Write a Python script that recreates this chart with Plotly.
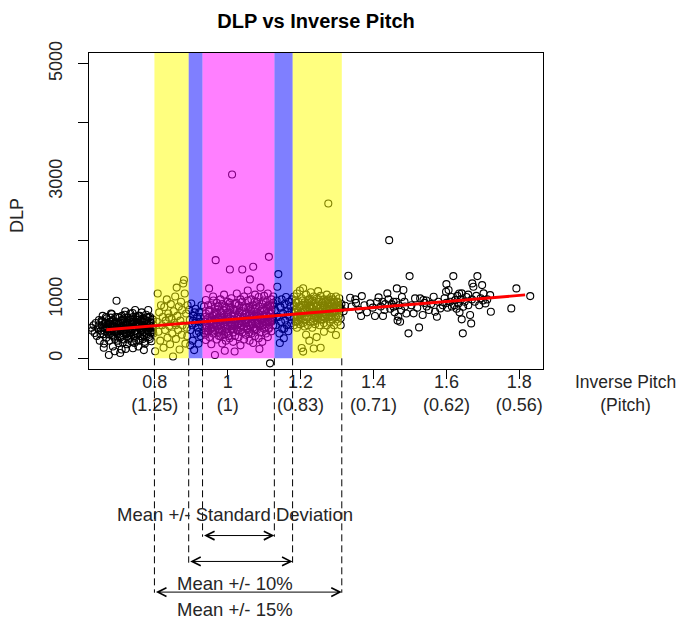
import plotly.graph_objects as go

# ---------------- data ----------------
# black cluster left of the bands
a_x = [0.626,0.628,0.632,0.635,0.638,0.641,0.644,0.647,0.649,0.652,0.655,0.657,0.659,0.661,0.663,0.665,0.667,0.668,0.670,0.672,
       0.674,0.675,0.676,0.678,0.680,0.681,0.683,0.685,0.686,0.688,0.689,0.691,0.692,0.694,0.695,0.697,0.698,0.700,0.701,0.703,
       0.704,0.706,0.707,0.709,0.710,0.712,0.713,0.715,0.716,0.718,0.719,0.721,0.722,0.724,0.725,0.727,0.728,0.730,0.731,0.733,
       0.734,0.736,0.737,0.739,0.740,0.742,0.743,0.745,0.746,0.748,0.749,0.751,0.752,0.754,0.755,0.757,0.758,0.760,0.761,0.763,
       0.764,0.766,0.767,0.769,0.770,0.772,0.773,0.775,0.776,0.778,0.779,0.781,0.782,0.784,0.785,0.787,0.788,0.790,0.791,0.793,
       0.794,0.796,0.797,0.690,0.705,0.720,0.660,0.740,0.770,0.750,0.735,0.715,0.700,0.685,0.760,0.780,0.725,0.745,0.710,0.765,
       0.668,0.678,0.693,0.708,0.723,0.738,0.753,0.768,0.783,0.795,0.656,0.699,0.731,0.756,0.774]
a_y = [520,470,560,430,600,380,510,650,300,470,560,720,410,250,600,500,350,680,440,560,
       56,300,620,470,760,390,540,200,650,450,580,330,700,500,976,420,620,260,540,690,
       380,480,600,150,720,430,560,320,660,500,800,410,580,240,690,470,540,350,630,760,
       440,580,280,510,700,380,620,460,820,540,300,660,430,590,200,720,500,380,640,470,
       780,560,330,680,450,600,250,520,740,410,630,480,820,360,560,700,440,600,290,520,
       660,420,560,120,90,160,180,170,140,600,650,550,450,560,550,700,380,350,640,420,
       500,580,460,530,610,490,570,510,450,480,620,520,430,590,540]
a2_x = [0.646,0.651,0.654,0.658,0.662,0.666,0.669,0.673,0.677,0.679,0.682,0.684,0.687,0.690,0.693,0.696,0.699,0.702,0.705,0.708,
        0.711,0.714,0.717,0.720,0.723,0.726,0.729,0.732,0.735,0.738,0.741,0.744,0.747,0.750,0.753,0.756,0.759,0.762,0.765,0.768,
        0.771,0.774,0.777,0.780,0.783,0.786,0.789,0.792,0.795,0.698,0.712,0.728,0.744,0.758,0.772,0.786,0.682,0.666,0.739,0.754]
a2_y = [560,420,640,520,470,600,530,410,580,690,460,620,370,540,610,470,700,590,350,520,
        660,480,740,560,430,600,500,680,390,620,540,460,700,420,650,560,720,470,610,540,
        380,650,570,470,690,520,610,440,660,300,270,320,260,300,280,330,750,700,770,720]

# yellow band, left side
b_x = [0.805,0.808,0.810,0.812,0.815,0.817,0.820,0.822,0.824,0.826,0.828,0.830,0.833,0.835,0.837,0.840,0.842,0.844,0.846,0.848,
       0.850,0.852,0.854,0.856,0.858,0.860,0.862,0.864,0.866,0.868,0.870,0.872,0.874,0.876,0.878,0.880,0.882,0.884,0.886,0.888,
       0.890,0.801,0.839,0.857,0.875,0.889]
b_y = [620,1100,450,780,300,900,560,700,180,870,480,640,1000,350,760,550,240,920,670,420,
       30,800,600,1050,330,1200,720,480,880,150,640,960,400,560,1270,1330,1100,250,760,520,
       900,120,690,560,820,380]

# blue band, left side
c_x = [0.894,0.896,0.898,0.900,0.902,0.904,0.906,0.908,0.910,0.912,0.914,0.916,0.918,0.920,0.922,0.924,0.926,0.928,0.930,0.897,
       0.909,0.921,0.905,0.925]
c_y = [820,650,480,930,560,300,720,140,600,840,420,700,520,250,780,620,380,900,540,220,
       780,450,640,700]

# magenta band (mean +/- SD)
d_x = [0.935,0.935,0.935,0.940,0.940,0.940,0.940,0.945,0.945,0.949,0.950,0.950,0.950,0.950,0.955,0.955,0.955,0.955,
       0.960,0.960,0.960,0.960,0.965,0.965,0.965,0.965,0.967,0.970,0.970,0.970,0.970,0.975,0.975,0.975,0.975,
       0.980,0.980,0.980,0.980,0.985,0.985,0.985,0.985,0.992,0.990,0.990,0.990,0.990,0.995,0.995,0.995,0.995,
       1.000,1.000,1.000,1.000,1.000,1.006,1.005,1.005,1.005,1.012,1.010,1.010,1.010,1.010,1.015,1.015,1.015,1.015,
       1.019,1.020,1.020,1.020,1.020,1.025,1.025,1.025,1.025,1.030,1.030,1.030,1.030,1.035,1.035,1.035,1.035,
       1.040,1.040,1.040,1.040,1.040,1.045,1.045,1.045,1.045,1.050,1.050,1.050,1.050,1.055,1.055,1.055,1.055,
       1.061,1.060,1.060,1.060,1.060,1.065,1.065,1.065,1.065,1.070,1.070,1.070,1.070,1.070,1.075,1.075,1.075,1.075,
       1.080,1.080,1.080,1.080,1.087,1.085,1.085,1.085,1.085,1.090,1.090,1.090,1.090,1.095,1.095,1.095,1.095,
       1.100,1.100,1.100,1.100,1.105,1.105,1.105,1.105,1.110,1.110,1.110,1.110,1.113,1.113,1.113,1.116,1.116,1.116,
       1.120,1.120,1.120,1.120,1.125,1.125,1.125,1.125,
       0.942,0.952,0.962,0.972,0.982,0.992,1.002,1.012,1.022,1.032,1.042,1.052,1.062,1.072,1.082,1.092,1.102,1.112,1.122,
       0.947,0.957,0.967,0.977,0.987,0.997,1.007,1.017,1.027,1.037,1.047,1.057,1.067,1.077,1.087,1.097,1.107,1.117,1.123]
d_y = [620,880,430,760,310,540,990,680,450,1186,580,820,360,700,900,500,640,240,
       720,420,1050,580,56,660,850,480,1666,760,540,320,940,620,880,440,700,
       1000,560,380,800,680,460,920,250,129,740,580,1080,400,650,860,500,300,
       780,560,960,420,700,1508,620,880,340,3119,720,500,1020,600,840,440,660,280,
       115,760,560,920,380,680,1100,480,820,600,900,360,740,1000,520,700,220,
       1508,800,620,440,960,700,1050,540,320,860,600,400,760,980,660,480,1150,
       1339,740,560,300,880,620,1000,420,800,1553,700,900,520,260,840,600,1080,380,
       720,960,480,640,158,880,560,1040,340,680,800,440,1200,920,600,740,280,
       1060,660,500,820,760,960,420,580,880,640,1100,360,1722,700,520,-85,900,760,
       1000,620,460,820,700,940,560,1050,
       560,640,600,680,520,620,700,560,640,600,680,540,660,720,600,640,700,620,680,
       460,520,780,500,600,740,540,820,560,480,640,860,580,500,740,560,840,620,900]
d2_x = [0.938,0.943,0.948,0.953,0.958,0.963,0.968,0.973,0.978,0.983,0.988,0.993,0.998,1.003,1.008,1.013,1.018,1.023,1.028,1.033,
        1.038,1.043,1.048,1.053,1.058,1.063,1.068,1.073,1.078,1.083,1.088,1.093,1.098,1.103,1.108,1.113,1.118,1.123,
        0.939,0.946,0.954,0.961,0.969,0.976,0.984,0.991,0.999,1.006,1.014,1.021,1.029,1.036,1.044,1.051,1.059,1.066,1.074,1.081,
        1.089,1.096,1.104,1.111,1.119]
d2_y = [700,520,800,610,450,760,590,880,470,650,820,540,710,380,860,580,660,940,470,780,
        560,880,650,500,720,830,600,470,900,760,540,660,980,620,720,500,880,640,
        400,900,520,980,640,380,760,880,450,940,500,820,700,560,860,620,440,760,960,580,
        700,840,520,900,760]

# blue band, right side
e_x = [1.130,1.132,1.134,1.136,1.139,1.140,1.142,1.144,1.146,1.148,1.150,1.152,1.154,1.156,1.158,1.160,1.162,1.164,1.166,1.168,
       1.170,1.172,1.174,1.176,1.135,1.145,1.155,1.165,1.175,1.143]
e_y = [820,560,980,1214,1429,700,420,880,620,1000,500,760,340,920,640,1040,560,800,460,960,
       700,880,600,1000,700,860,500,740,800,260]

# yellow band, right side
f_x = [1.182,1.182,1.182,1.182,1.186,1.186,1.186,1.190,1.190,1.190,1.190,1.194,1.194,1.194,1.198,1.198,1.198,1.198,
       1.203,1.203,1.203,1.203,1.207,1.207,1.207,1.207,1.211,1.211,1.211,1.215,1.215,1.215,1.215,1.220,1.220,1.220,
       1.224,1.224,1.224,1.224,1.228,1.228,1.228,1.232,1.232,1.232,1.232,1.236,1.236,1.236,1.236,1.240,1.240,1.240,
       1.244,1.244,1.244,1.244,1.248,1.248,1.248,1.252,1.252,1.252,1.255,1.255,1.255,1.255,1.260,1.260,1.260,
       1.264,1.264,1.264,1.264,1.268,1.268,1.268,1.272,1.272,1.272,1.276,1.276,1.276,1.276,1.280,1.280,1.280,
       1.284,1.284,1.284,1.284,1.288,1.288,1.288,1.292,1.292,1.292,1.297,1.297,1.297,1.297,1.302,1.302,1.302,
       1.306,1.306,1.306,1.310,1.310,1.310]
f_y = [900,700,1050,560,780,980,620,850,1100,520,700,960,640,800,1150,740,580,880,
       175,900,680,1020,114,820,600,1190,950,720,540,860,1080,660,400,780,940,560,
       1000,700,860,300,620,900,1120,760,980,520,840,166,880,680,1050,720,940,580,
       1010,800,640,360,900,700,1140,760,960,560,180,860,1060,660,940,720,820,
       1000,600,880,450,780,960,680,1080,840,560,2627,920,700,1000,780,880,620,
       1040,720,940,500,860,660,1000,960,780,560,395,880,1050,700,820,960,620,
       900,760,1020,840,680,560]
f2_x = [1.184,1.188,1.192,1.196,1.200,1.205,1.209,1.213,1.218,1.222,1.226,1.230,1.234,1.238,1.242,1.246,1.250,1.254,1.258,1.262,
        1.266,1.270,1.274,1.278,1.282,1.286,1.290,1.295,1.299,1.304,1.308,1.312,
        1.190,1.200,1.212,1.225,1.238,1.250,1.262,1.275,1.288,1.300]
f2_y = [820,940,720,880,660,980,780,900,700,1000,840,960,620,800,880,720,1000,800,660,900,
        860,740,980,840,700,920,880,800,960,700,860,920,
        620,780,820,900,760,840,700,940,780,900]

# sparse black points on the right
g_x = [1.322,1.331,1.336,1.318,1.340,1.352,1.360,1.366,1.368,1.375,1.382,1.391,1.398,1.404,1.410,1.414,1.420,1.426,1.432,1.438,
       1.441,1.443,1.446,1.450,1.455,1.458,1.462,1.464,1.466,1.468,1.470,1.473,1.476,1.478,1.482,1.486,1.490,1.496,1.499,1.504,
       1.510,1.514,1.520,1.525,1.528,1.535,1.537,1.540,1.546,1.552,1.558,1.565,1.569,1.574,1.578,1.583,1.590,1.595,1.599,1.600,
       1.603,1.606,1.610,1.614,1.619,1.622,1.624,1.628,1.630,1.633,1.636,1.640,1.642,1.642,1.645,1.646,1.650,1.655,1.660,1.665,
       1.668,1.670,1.671,1.674,1.678,1.682,1.685,1.690,1.694,1.698,1.702,1.707,1.712,1.720,1.722,1.778,1.792,1.830,1.455,1.430,
       1.600,1.615,1.660,1.700,1.350,1.485,1.545,1.425,1.635]
g_y = [892,1400,1027,800,880,940,820,717,1056,900,780,932,860,717,960,1034,880,717,920,1102,
       1000,2005,840,920,875,780,960,1186,640,705,900,620,820,1040,1158,880,760,424,1395,900,
       763,1017,860,525,1017,734,990,940,880,820,920,1044,790,705,960,847,900,1020,1129,1259,
       860,1158,960,1040,1395,900,988,840,1060,932,780,1000,1102,661,424,875,960,1040,900,734,
       593,1000,1271,1214,960,1060,1395,900,1020,1242,1102,932,1000,1073,790,847,1186,1056,960,820,
       940,880,1080,980,1000,960,980,960,1100]

# fitted trend line (end points)
trend_x = [0.667, 1.816]
trend_y = [485, 1075]

# band limits (inverse pitch): mean +/- 15 %, +/- 10 %, +/- SD
band15 = [0.799, 1.313]
band10 = [0.893, 1.178]
band_sd = [0.931, 1.128]
band_y = [0, 6000]

x_ticks = [0.8, 1.0, 1.2, 1.4, 1.6, 1.8]
x_tick_text = ["0.8<br>(1.25)", "1<br>(1)", "1.2<br>(0.83)", "1.4<br>(0.71)", "1.6<br>(0.62)", "1.8<br>(0.56)"]
y_ticks = [0, 1000, 2000, 3000, 4000, 5000]
y_tick_text = ["0", "1000", "", "3000", "", "5000"]

# ---------------- figure ----------------
FONT = "Liberation Sans, Arial, sans-serif"
TXT = "#262626"
fig = go.Figure()

xs = a_x + a2_x + b_x + c_x + d_x + d2_x + e_x + f_x + f2_x + g_x
ys = a_y + a2_y + b_y + c_y + d_y + d2_y + e_y + f_y + f2_y + g_y
fig.add_trace(go.Scatter(x=xs, y=ys, mode="markers",
                         marker=dict(symbol="circle-open", size=7, color="black", line=dict(width=1.1)),
                         hoverinfo="skip", showlegend=False))


def band(x0, x1, color):
    fig.add_trace(go.Scatter(x=[x0, x1, x1, x0, x0],
                             y=[band_y[0], band_y[0], band_y[1], band_y[1], band_y[0]],
                             mode="lines", fill="toself", fillcolor=color,
                             line=dict(width=0), hoverinfo="skip", showlegend=False))


YEL = "rgba(255,255,0,0.5)"
BLU = "rgba(0,0,255,0.5)"
MAG = "rgba(255,0,255,0.5)"
band(band15[0], band10[0], YEL)
band(band10[1], band15[1], YEL)
band(band10[0], band_sd[0], BLU)
band(band_sd[1], band10[1], BLU)
band(band_sd[0], band_sd[1], MAG)

fig.add_trace(go.Scatter(x=trend_x, y=trend_y, mode="lines",
                         line=dict(color="red", width=2.8), hoverinfo="skip", showlegend=False))

# y range in data units
Y0, Y1 = -181, 5180


def py(v):
    return (v - Y0) / (Y1 - Y0)


# dashed guide lines below the plot
dash_sets = [(band15, -0.708), (band10, -0.613), (band_sd, -0.531)]
for (lo, hi), ybot in dash_sets:
    for xv in (lo, hi):
        fig.add_shape(type="line", xref="x", yref="paper", x0=xv, x1=xv, y0=py(0), y1=ybot,
                      line=dict(color="black", width=1, dash="7px,4px"))

# double arrows
arrow_sets = [(band_sd, -0.527), (band10, -0.609), (band15, -0.706)]
for (lo, hi), yv in arrow_sets:
    fig.add_annotation(x=hi, y=yv, xref="x", yref="paper", ax=lo, ay=0, axref="x", ayref="pixel",
                       text="", showarrow=True, arrowside="end+start",
                       arrowhead=5, startarrowhead=5, arrowsize=1.7, startarrowsize=1.7,
                       arrowwidth=1, arrowcolor="black", standoff=0, startstandoff=0)

labels = [("Mean +/- Standard Deviation", -0.4616), ("Mean +/- 10%", -0.680), ("Mean +/- 15%", -0.762)]
for txt, yv in labels:
    fig.add_annotation(x=1.021, y=yv, xref="x", yref="paper", text=txt, showarrow=False,
                       xanchor="center", yanchor="middle", font=dict(size=18.5, color=TXT, family=FONT))

fig.add_annotation(x=1.181, y=-0.0774, xref="paper", yref="paper", text="Inverse Pitch<br>(Pitch)",
                   showarrow=False, xanchor="center", yanchor="middle",
                   font=dict(size=17.5, color=TXT, family=FONT))
fig.add_annotation(x=-0.160, y=0.485, xref="paper", yref="paper", text="DLP", textangle=-90,
                   showarrow=False, xanchor="center", yanchor="middle",
                   font=dict(size=18, color=TXT, family=FONT))

# the page body adds an 8 px offset, so the figure is 8 px smaller and margins shifted
fig.update_layout(
    width=677, height=612,
    margin=dict(l=81, r=142, t=45, b=251),
    paper_bgcolor="white", plot_bgcolor="white",
    font=dict(family=FONT, size=18, color=TXT),
    title=dict(text="<b>DLP vs Inverse Pitch</b>", x=0.5, xref="paper", y=1 - 13 / 612,
               yanchor="middle", font=dict(size=20, color="black", family=FONT)),
    showlegend=False,
    xaxis=dict(range=[0.6195, 1.865], tickvals=x_ticks, ticktext=x_tick_text,
               showgrid=False, zeroline=False, showline=True, mirror=True,
               linecolor="black", linewidth=1, ticks="outside", ticklen=9, tickcolor="black",
               ticklabelstandoff=-13,
               tickfont=dict(size=18, color=TXT, family=FONT)),
    yaxis=dict(range=[Y0, Y1], tickvals=y_ticks, ticktext=y_tick_text, tickangle=-90,
               showgrid=False, zeroline=False, showline=True, mirror=True,
               linecolor="black", linewidth=1, ticks="outside", ticklen=10, tickcolor="black",
               ticklabelstandoff=9,
               tickfont=dict(size=18, color=TXT, family=FONT)),
)

fig.write_html("out.html")
